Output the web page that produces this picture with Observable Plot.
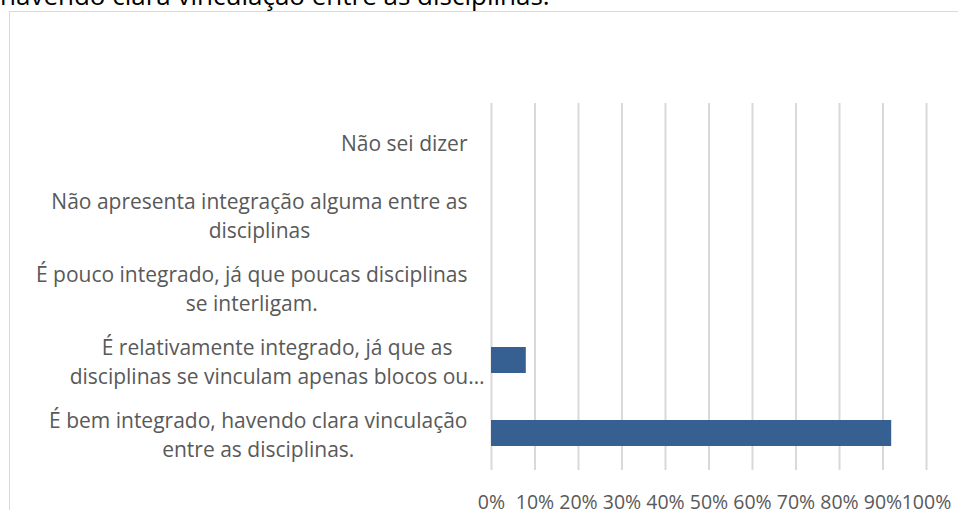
<!DOCTYPE html>
<html>
<head>
<meta charset="utf-8">
<script src="https://cdn.jsdelivr.net/npm/d3@7"></script>
<script src="https://cdn.jsdelivr.net/npm/@observablehq/plot@0.6"></script>
<style>
  html, body { margin: 0; padding: 0; background: #fff; overflow: hidden; }
  #wrap { position: relative; width: 958px; height: 510px; overflow: hidden; }
  #title { position: absolute; left: 0; top: -18px; font-family: "Open Sans", sans-serif; font-size: 26px; line-height: 26px; color: #000; white-space: nowrap; }
  #frame { position: absolute; left: 9px; top: 11px; width: 960px; height: 520px; border: 1px solid #d9d9d9; box-sizing: border-box; }
  #chart { position: absolute; left: 0; top: 0; }
</style>
</head>
<body>
<div id="wrap">
  <div id="title">havendo clara vinculação entre as disciplinas.</div>
  <div id="frame"></div>
  <div id="chart"></div>
</div>
<script>
const categories = [
  "Não sei dizer",
  "Não apresenta integração alguma entre as\ndisciplinas",
  "É pouco integrado, já que poucas disciplinas\nse interligam.",
  "É relativamente integrado, já que as\ndisciplinas se vinculam apenas blocos ou…",
  "É bem integrado, havendo clara vinculação\nentre as disciplinas."
];
const values = [0, 0, 0, 8, 92];
const xTicks = [0, 10, 20, 30, 40, 50, 60, 70, 80, 90, 100];

const data = categories.map((c, i) => ({cat: c, value: values[i]}));

const FS = 21;
const TICK_FS = 19.5;
const FAMILY = "Open Sans";
const ctx = document.createElement("canvas").getContext("2d");
ctx.font = `${FS}px "${FAMILY}"`;
const maxW = s => Math.max(...s.split("\n").map(l => ctx.measureText(l).width));
const rightGap = [24, 24, 24, 7, 24];

const labelMarks = categories.map((c, i) =>
  Plot.text([c], {
    x: () => 0,
    y: d => d,
    text: d => d,
    textAnchor: "middle",
    lineAnchor: "middle",
    lineHeight: 1.38,
    dx: -(rightGap[i] + maxW(c) / 2),
    fill: "#595959",
    fontSize: FS,
    fontFamily: FAMILY
  })
);

const chart = Plot.plot({
  width: 958,
  height: 510,
  marginLeft: 491,
  marginRight: 32,
  marginTop: 103,
  marginBottom: 40,
  style: {fontFamily: FAMILY, fontSize: TICK_FS + "px", color: "#595959", background: "transparent"},
  x: {domain: [0, 100], ticks: xTicks, tickFormat: d => d + "%", label: null},
  y: {domain: categories, paddingInner: 0.645, paddingOuter: 0.3225, label: null, axis: null},
  marks: [
    Plot.ruleX(xTicks, {stroke: "#d9d9d9", strokeWidth: 2, strokeOpacity: 1}),
    Plot.barX(data, {x: "value", y: "cat", fill: "#376092"}),
    Plot.axisX({ticks: xTicks, tickFormat: d => d + "%", tickSize: 0, tickPadding: 25, fontSize: TICK_FS, fill: "#595959", label: null}),
    ...labelMarks
  ]
});
document.getElementById("chart").appendChild(chart);
</script>
</body>
</html>
